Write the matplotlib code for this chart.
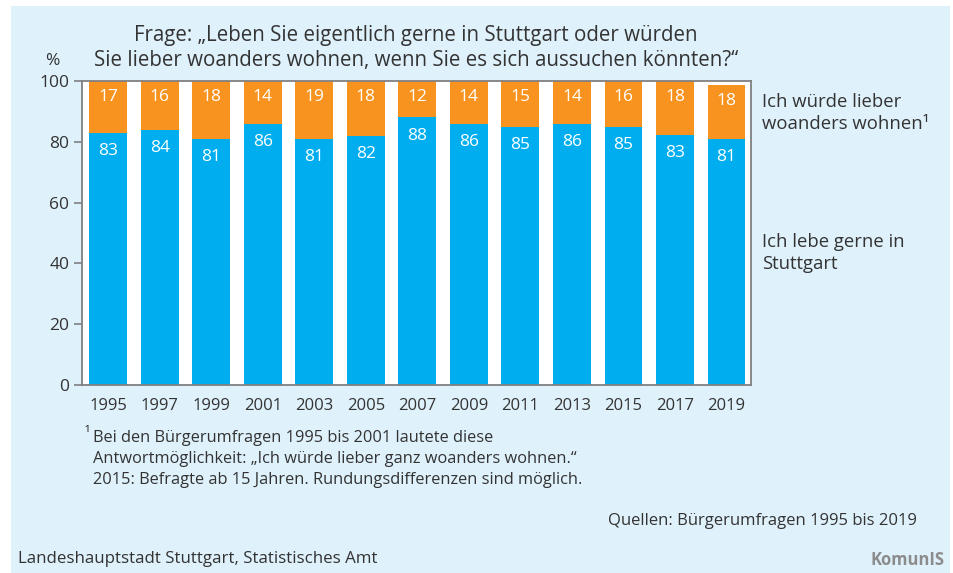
import matplotlib.pyplot as plt
from matplotlib.patches import Rectangle
import numpy as np

plt.rcParams['font.family'] = ['Open Sans', 'DejaVu Sans']

years = ['1995', '1997', '1999', '2001', '2003', '2005', '2007',
         '2009', '2011', '2013', '2015', '2017', '2019']
# printed (rounded) labels
gerne_lbl = [83, 84, 81, 86, 81, 82, 88, 86, 85, 86, 85, 83, 81]
woanders_lbl = [17, 16, 18, 14, 19, 18, 12, 14, 15, 14, 16, 18, 18]
# bar heights (unrounded shares)
gerne = [83, 84, 81, 86, 81, 82, 88, 86, 85, 86, 85, 82.4, 81]
woanders = [17, 16, 19, 14, 19, 18, 12, 14, 15, 14, 15, 17.6, 17.7]

blue = '#00AEEF'
orange = '#F7931E'
txt = '#333333'
grey = '#808080'

fig = plt.figure(figsize=(9.54, 5.73), dpi=100)
fig.patch.set_facecolor('white')
# light blue panel behind everything
fig.patches.append(Rectangle((11 / 954, 0), 939 / 954, 1 - 6 / 573,
                             transform=fig.transFigure, facecolor='#DFF1FB',
                             edgecolor='none', zorder=-5))

ax = fig.add_axes([81.7 / 954, 1 - 385 / 573, 669 / 954, 304 / 573])
ax.set_facecolor('white')

x = np.arange(len(years))
w = 0.735
ax.bar(x, gerne, width=w, color=blue, zorder=2)
ax.bar(x, woanders, width=w, bottom=gerne, color=orange, zorder=2)

for i in range(len(years)):
    top = gerne[i] + woanders[i]
    ax.text(x[i], top - 5.3, str(woanders_lbl[i]), color='white', ha='center',
            va='center', fontsize=12.5, zorder=3)
    ax.text(x[i], gerne[i] - 6, str(gerne_lbl[i]), color='white', ha='center',
            va='center', fontsize=12.5, zorder=3)

ax.set_xlim(-0.515, 12.47)
ax.set_ylim(0, 100)
ax.set_yticks(range(0, 101, 20))
ax.set_xticks(x)
ax.set_xticklabels(years)
ax.tick_params(axis='y', length=6, width=1.2, color=grey, labelsize=12.5,
               labelcolor=txt, pad=3)
ax.tick_params(axis='x', length=0, labelsize=12, labelcolor=txt, pad=9)
for s in ax.spines.values():
    s.set_color(grey)
    s.set_linewidth(1.3)

fig.text(416 / 954, 1 - 48 / 573,
         'Frage: „Leben Sie eigentlich gerne in Stuttgart oder würden\n'
         'Sie lieber woanders wohnen, wenn Sie es sich aussuchen könnten?“',
         ha='center', va='center', fontsize=14.8, color=txt, linespacing=1.2)
fig.text(52 / 954, 1 - 61 / 573, '%', ha='center', va='center',
         fontsize=12.5, color=txt)

fig.text(762 / 954, 1 - 113 / 573, 'Ich würde lieber\nwoanders wohnen¹',
         ha='left', va='center', fontsize=13.3, color=txt, linespacing=1.3)
fig.text(762 / 954, 1 - 253 / 573, 'Ich lebe gerne in\nStuttgart',
         ha='left', va='center', fontsize=13.3, color=txt, linespacing=1.3)

fig.text(84 / 954, 1 - 435 / 573, '¹', ha='left', va='center',
         fontsize=10.5, color=txt)
fig.text(93 / 954, 1 - 459 / 573,
         'Bei den Bürgerumfragen 1995 bis 2001 lautete diese\n'
         'Antwortmöglichkeit: „Ich würde lieber ganz woanders wohnen.“\n'
         '2015: Befragte ab 15 Jahren. Rundungsdifferenzen sind möglich.',
         ha='left', va='center', fontsize=11.8, color=txt, linespacing=1.45)

fig.text(917 / 954, 1 - 521 / 573, 'Quellen: Bürgerumfragen 1995 bis 2019',
         ha='right', va='center', fontsize=12, color=txt)
fig.text(18 / 954, 1 - 559 / 573, 'Landeshauptstadt Stuttgart, Statistisches Amt',
         ha='left', va='center', fontsize=12.2, color=txt)
fig.text(945 / 954, 1 - 560 / 573, 'KomunIS', ha='right', va='center',
         fontsize=12, color='#8C8C8C', fontweight='bold')

fig.savefig('out.png', dpi=100)
